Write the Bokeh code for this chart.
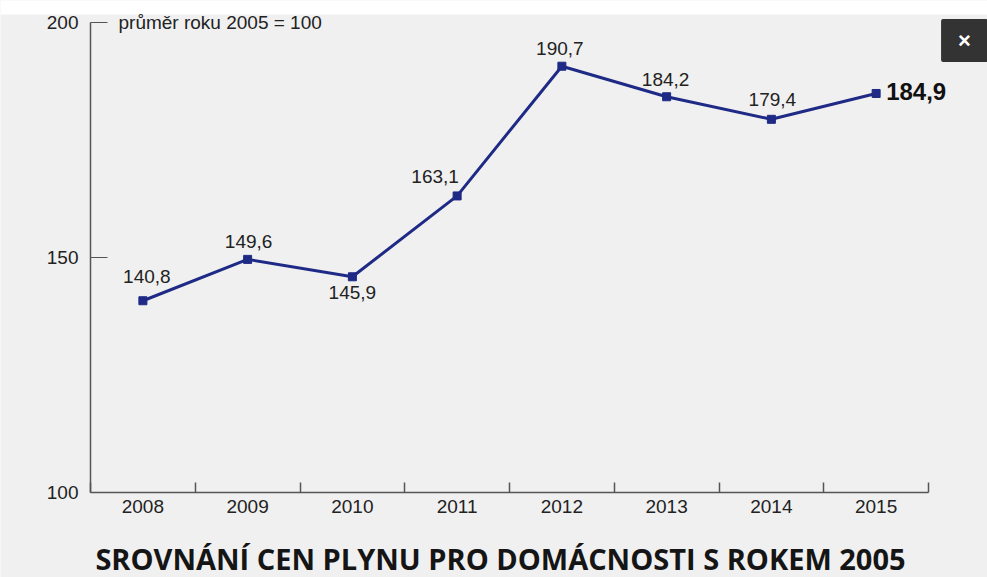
from bokeh.plotting import figure
from bokeh.models import (ColumnDataSource, FixedTicker, Range1d, Label, LabelSet,
                          LinearAxis, BoxAnnotation)
from bokeh.core.properties import value
from bokeh.embed import file_html
from bokeh.resources import INLINE

years = ["2008", "2009", "2010", "2011", "2012", "2013", "2014", "2015"]
values = [140.8, 149.6, 145.9, 163.1, 190.7, 184.2, 179.4, 184.9]
value_labels = ["140,8", "149,6", "145,9", "163,1", "190,7", "184,2", "179,4", "184,9"]
y_ticks = [100, 150, 200]
note_text = "průměr roku 2005 = 100"
title_text = "SROVNÁNÍ CEN PLYNU PRO DOMÁCNOSTI S ROKEM 2005"

# label offsets (styling, px)
lab_dx = [4, 1, 0, -22, -2, -1, 1]
lab_dy = [24, 18, -16, 19, 18, 17, 20]

BG = "#f0f0f0"
LINE = "#1f2a86"
AX = "#555555"
TXT = "#222222"
FONT = "Liberation Sans"

W, H = 987, 577
AX_L, AX_R, AX_T, AX_B = 90, 928, 22, 492   # pixel frame of the chart area
n_cat = len(years)
cw = (AX_R - AX_L) / n_cat
ppu = (AX_B - AX_T) / (y_ticks[-1] - y_ticks[0])
x0 = -0.5 - AX_L / cw
x1 = -0.5 + (W - AX_L) / cw
y1 = y_ticks[-1] + AX_T / ppu
y0 = y_ticks[0] - (H - AX_B) / ppu

xs = list(range(n_cat))

p = figure(width=W, height=H, min_border=0,
           x_range=Range1d(x0, x1), y_range=Range1d(y0, y1),
           x_axis_type=None, y_axis_type=None,
           output_backend="svg", toolbar_location=None, tools="")
p.background_fill_color = BG
p.border_fill_color = BG
p.outline_line_color = None
p.xgrid.visible = False
p.ygrid.visible = False

# white strip at the top
p.add_layout(BoxAnnotation(bottom=y1 - 14 / ppu, top=y1, left=x0, right=x1,
                           fill_color="white", fill_alpha=1.0, line_color=None))

# x axis
xa = LinearAxis(fixed_location=y_ticks[0], bounds=(-0.5, n_cat - 0.5))
xa.ticker = FixedTicker(ticks=xs, minor_ticks=[i - 0.5 for i in range(n_cat + 1)])
xa.major_label_overrides = {i: y for i, y in enumerate(years)}
xa.major_tick_in = 0
xa.major_tick_out = 0
xa.minor_tick_in = 10
xa.minor_tick_out = 0
xa.minor_tick_line_color = AX
xa.axis_line_color = AX
xa.axis_line_width = 1.5
xa.minor_tick_line_width = 1.5
xa.major_label_standoff = 7
xa.major_label_text_font = FONT
xa.major_label_text_font_size = "19px"
xa.major_label_text_color = TXT
p.add_layout(xa, "below")

# y axis
ya = LinearAxis(fixed_location=-0.5, bounds=(y_ticks[0], y_ticks[-1]))
ya.ticker = FixedTicker(ticks=y_ticks, minor_ticks=[])
ya.major_tick_in = 17
ya.major_tick_out = 0
ya.major_tick_line_color = AX
ya.major_tick_line_width = 1.2
ya.axis_line_color = AX
ya.axis_line_width = 1.5
ya.major_label_standoff = 12
ya.major_label_text_font = FONT
ya.major_label_text_font_size = "19px"
ya.major_label_text_color = TXT
p.add_layout(ya, "left")

src = ColumnDataSource(dict(x=xs, y=values))
p.line("x", "y", source=src, line_color=LINE, line_width=3)
p.scatter("x", "y", source=src, marker="square", size=8, color=LINE)

n = n_cat - 1
lsrc = ColumnDataSource(dict(x=xs[:n], y=values[:n], t=value_labels[:n],
                             dx=lab_dx, dy=lab_dy))
p.add_layout(LabelSet(x="x", y="y", text="t", source=lsrc, x_offset="dx", y_offset="dy",
                      text_align="center", text_baseline="middle",
                      text_font=value(FONT), text_font_size=value("19px"),
                      text_color=TXT))
p.add_layout(Label(x=xs[n], y=values[n], text=value_labels[n], x_offset=10, y_offset=2,
                   text_align="left", text_baseline="middle", text_font=FONT,
                   text_font_size="24px", text_font_style="bold", text_color="#111111"))

p.add_layout(Label(x=-0.5, y=y_ticks[-1], text=note_text, x_offset=28, text_baseline="middle",
                   text_font=FONT, text_font_size="19px", text_color=TXT))

p.add_layout(Label(x=-0.5, y=y_ticks[0], x_offset=410, y_offset=-66, text=title_text,
                   text_align="center", text_baseline="middle", text_font="Open Sans",
                   text_font_size="29px", text_font_style="bold", text_color="#151515"))

# close button
p.add_layout(Label(x=n_cat - 0.5, y=y_ticks[-1], x_offset=36, y_offset=-18, text="×",
                   text_align="center", text_baseline="middle", text_font=FONT,
                   text_font_size="22px", text_font_style="bold", text_color="white",
                   background_fill_color="#333333", padding=(17, 9), border_radius=2))

open("out.html", "w").write(file_html(p, INLINE))
